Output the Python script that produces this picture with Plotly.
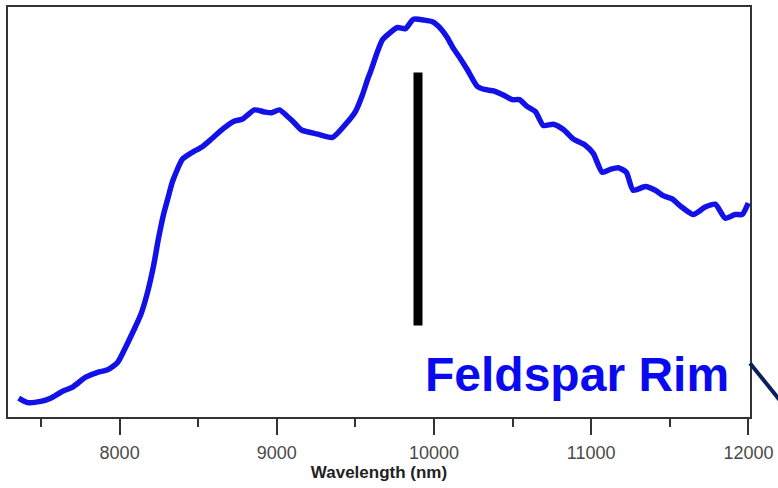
import plotly.graph_objects as go

# Spectrum (wavelength in nm, relative intensity, arbitrary units)
wavelength_nm = [7358, 7415, 7498, 7561, 7638, 7701, 7784, 7860, 7924, 7987,
                 8038, 8089, 8133, 8172, 8216, 8248, 8280, 8311, 8337, 8400,
                 8451, 8528, 8578, 8661, 8725, 8782, 8858, 8922, 8966, 9017,
                 9068, 9100, 9157, 9259, 9354, 9437, 9500, 9545, 9577, 9596,
                 9640, 9672, 9704, 9767, 9818, 9869, 9939, 9990, 10041, 10085,
                 10123, 10168, 10212, 10276, 10320, 10384, 10447, 10498, 10543, 10594,
                 10645, 10695, 10759, 10823, 10886, 10962, 11013, 11070, 11121, 11172,
                 11223, 11267, 11344, 11407, 11458, 11515, 11566, 11649, 11725, 11789,
                 11852, 11916, 11960, 11999]
intensity = [4.6, 3.5, 3.8, 4.6, 6.3, 7.3, 9.7, 10.9, 11.5, 13.3,
             17.0, 21.1, 24.8, 29.6, 36.9, 43.7, 49.5, 53.9, 57.5, 62.9,
             64.3, 66.0, 67.6, 70.4, 72.1, 72.7, 74.9, 74.4, 74.2, 74.9,
             73.3, 72.2, 70.0, 69.0, 68.2, 71.4, 74.5, 78.6, 82.3, 84.2,
             89.1, 92.0, 93.2, 95.0, 94.7, 97.0, 96.8, 96.4, 94.8, 92.5,
             89.9, 87.4, 84.7, 80.6, 79.9, 79.5, 78.4, 77.4, 77.4, 75.7,
             74.5, 71.1, 71.4, 70.1, 67.8, 66.3, 64.3, 59.7, 60.4, 60.8,
             59.7, 55.3, 56.2, 55.3, 54.0, 53.2, 51.5, 49.4, 51.2, 51.9,
             48.5, 49.4, 49.4, 52.2]

# Vertical marker bar
marker_wavelength = [9898]
marker_range = [22.3, 84.0]

label_text = "Feldspar Rim"
x_title = "Wavelength (nm)"
x_ticks = [8000, 9000, 10000, 11000, 12000]
x_tick_labels = ["8000", "9000", "10000", "11000", "12000"]

fig = go.Figure()
fig.add_trace(go.Scatter(
    x=wavelength_nm, y=intensity, mode="lines",
    line=dict(color="#1212e8", width=5.5, shape="spline", smoothing=0.6),
    showlegend=False, hoverinfo="skip"))

fig.add_shape(type="line", xref="x", yref="y",
              x0=marker_wavelength[0], x1=marker_wavelength[0],
              y0=marker_range[0], y1=marker_range[1],
              line=dict(color="black", width=9))

# decorative navy connector line at right edge
fig.add_shape(type="line", xref="paper", yref="paper",
              x0=1.0, y0=0.131, x1=1.045, y1=0.03,
              line=dict(color="#0b1f5a", width=4))

fig.add_annotation(text=label_text, xref="paper", yref="paper",
                   x=0.767, y=0.103, xanchor="center", yanchor="middle",
                   showarrow=False,
                   font=dict(family="Liberation Sans, Arial", size=48,
                             color="#0a0af0", weight="bold"))

fig.update_layout(
    width=778, height=488,
    margin=dict(l=8, r=28, t=5, b=71),
    paper_bgcolor="white", plot_bgcolor="white",
    xaxis=dict(range=[7290, 12010], tickvals=x_ticks, ticktext=x_tick_labels,
               ticks="outside", ticklen=16, tickwidth=2, tickcolor="#333",
               minor=dict(dtick=500, tick0=7500, ticks="outside", ticklen=8,
                          tickwidth=2, tickcolor="#333", showgrid=False),
               showline=True, linecolor="#333", linewidth=2, mirror=True,
               showgrid=False, zeroline=False,
               ticklabelstandoff=2,
               tickfont=dict(family="Liberation Sans, Arial", size=18, color="#4a4a4a"),
               title=dict(text="<b>" + x_title + "</b>", standoff=4,
                          font=dict(family="Liberation Sans, Arial", size=17, color="#222"))),
    yaxis=dict(range=[0, 100], showticklabels=False, ticks="",
               showline=True, linecolor="#333", linewidth=2, mirror=True,
               showgrid=False, zeroline=False),
)

fig.write_html("out.html")
